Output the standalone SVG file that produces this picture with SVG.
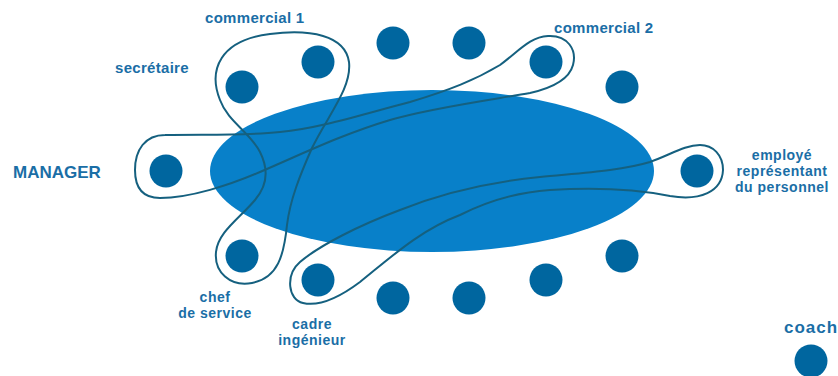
<svg xmlns="http://www.w3.org/2000/svg" width="838" height="376" viewBox="0 0 838 376">
<style>
.p{fill:#00669f}
.t{fill:#1a6ea6;font-family:"Liberation Sans",Arial,sans-serif;font-weight:bold;font-size:15px}
.m{font-size:14px;letter-spacing:0.5px}
.c{text-anchor:middle}
.loop{fill:none;stroke:#15607f;stroke-width:2}
</style>
<rect width="838" height="376" fill="#ffffff"/>
<g id="group-ellipse"><ellipse cx="432" cy="171" rx="222" ry="81" fill="#0880c9"/></g>
<g id="secretaire"><circle class="p" cx="242" cy="87" r="16.5"/><text class="t" x="115" y="73" style="letter-spacing:0.3px">secrétaire</text></g>
<g id="commercial1"><circle class="p" cx="318" cy="62" r="16.5"/><text class="t" x="205" y="23" style="letter-spacing:0.3px">commercial 1</text></g>
<g id="p3"><circle class="p" cx="393" cy="43" r="16.5"/></g>
<g id="p4"><circle class="p" cx="469" cy="43" r="16.5"/></g>
<g id="commercial2"><circle class="p" cx="546" cy="62" r="16.5"/><text class="t" x="554" y="33" style="letter-spacing:0.3px">commercial 2</text></g>
<g id="p6"><circle class="p" cx="622" cy="87" r="16.5"/></g>
<g id="manager"><circle class="p" cx="166" cy="171" r="16.5"/><text class="t" x="13" y="178" style="font-size:17px">MANAGER</text></g>
<g id="employe"><circle class="p" cx="697" cy="171" r="16.5"/><text class="t m c" x="782" y="160">employé</text><text class="t m c" x="782" y="176">représentant</text><text class="t m c" x="782" y="192">du personnel</text></g>
<g id="chef"><circle class="p" cx="242" cy="256" r="16.5"/><text class="t m c" x="215" y="302">chef</text><text class="t m c" x="215" y="318">de service</text></g>
<g id="cadre"><circle class="p" cx="318" cy="280" r="16.5"/><text class="t m c" x="312" y="329">cadre</text><text class="t m c" x="312" y="345">ingénieur</text></g>
<g id="p11"><circle class="p" cx="393" cy="298" r="16.5"/></g>
<g id="p12"><circle class="p" cx="469" cy="298" r="16.5"/></g>
<g id="p13"><circle class="p" cx="546" cy="280" r="16.5"/></g>
<g id="p14"><circle class="p" cx="622" cy="256" r="16.5"/></g>
<g id="coach"><circle class="p" cx="811" cy="361" r="16.5"/><text class="t" x="784" y="333" style="font-size:17px;letter-spacing:1px">coach</text></g>
<g id="connectors">
<path class="loop" d="M 220,100 C 208,70 220,40 270,34 C 310,29 345,35 349,62 C 352,88 328,115 312,148 C 300,175 290,200 287,225 C 284,255 278,278 252,283 C 230,287 214,272 216,252 C 218,232 240,218 255,200 C 268,185 268,168 260,152 C 250,132 228,122 220,100 Z"/>
<path class="loop" d="M 165,135 C 200,134 240,136 280,132 C 320,128 360,115 410,102 C 450,90 475,80 500,65 C 520,50 530,37 548,36 C 568,35 577,50 573,65 C 569,80 552,88 530,93 C 490,100 430,108 390,120 C 340,135 300,155 260,172 C 230,185 190,198 160,198 C 140,198 135,185 135,170 C 135,150 145,135 165,135 Z"/>
<path class="loop" d="M 700,145 C 685,145 670,155 650,162 C 620,171 580,173 540,177 C 500,181 450,190 400,210 C 360,225 320,245 300,262 C 285,275 288,300 303,303 C 320,307 340,297 360,282 C 390,258 420,230 460,215 C 490,200 520,192 550,190 C 600,187 640,190 670,196 C 700,201 722,192 723,170 C 723,155 713,145 700,145 Z"/>
</g>
</svg>
